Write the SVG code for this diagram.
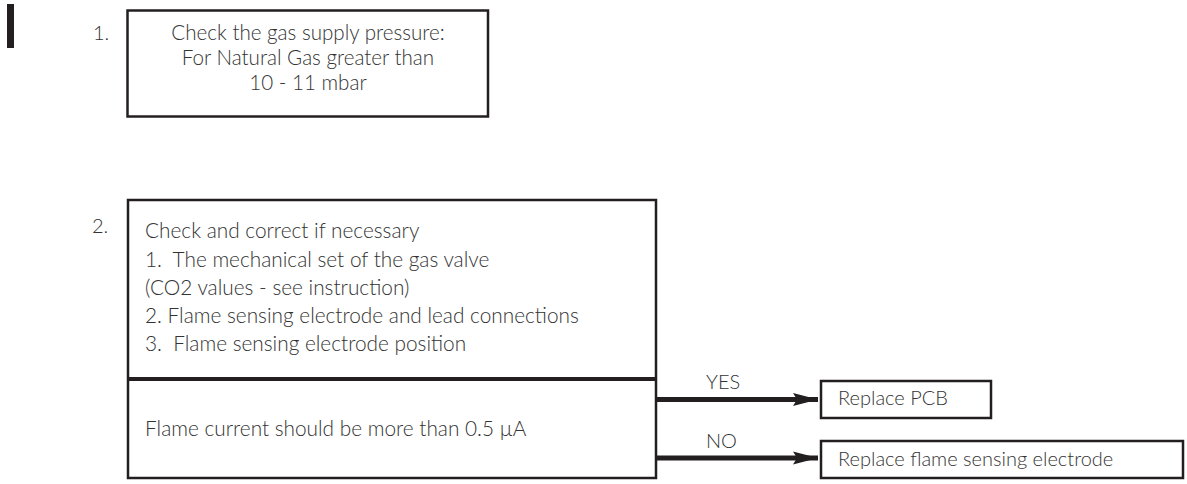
<svg xmlns="http://www.w3.org/2000/svg" width="1187" height="484" viewBox="0 0 1187 484">
<style>
text{font-family:Lato,"Open Sans","Liberation Sans",sans-serif;font-weight:300;font-size:20px;fill:#333}
.b1{font-size:20.6px}
.b2{font-size:20.8px;white-space:pre}
.box{fill:#fff;stroke:#231f20;stroke-width:2.5}
.c{text-anchor:middle}
.conn{stroke:#231f20;stroke-width:5;fill:none}
</style>
<defs>
<marker id="ah" markerUnits="userSpaceOnUse" markerWidth="26" markerHeight="14" refX="25" refY="7" orient="auto">
<path d="M0,0.5 L25,7 L0,13.5 L4,7 Z" fill="#231f20"/>
</marker>
</defs>
<rect x="7" y="4" width="7" height="44" fill="#231f20"/>
<g id="step1">
<text x="93" y="40">1.</text>
<rect class="box" x="127.5" y="10.5" width="360.5" height="106"/>
<text class="c b1" x="308" y="40">Check the gas supply pressure:</text>
<text class="c b1" x="308" y="65">For Natural Gas greater than</text>
<text class="c b1" x="308" y="90">10 - 11 mbar</text>
</g>
<g id="step2">
<text x="92" y="233">2.</text>
<rect class="box" x="128" y="200" width="528" height="278"/>
<line x1="128" y1="379" x2="656" y2="379" stroke="#231f20" stroke-width="4"/>
<text class="b2" x="145" y="238">Check and correct if necessary</text>
<text class="b2" x="145" y="267" xml:space="preserve">1.  The mechanical set of the gas valve</text>
<text class="b2" x="145" y="295">(CO2 values - see instruction)</text>
<text class="b2" x="145" y="323">2. Flame sensing electrode and lead connections</text>
<text class="b2" x="145" y="351" xml:space="preserve">3.  Flame sensing electrode position</text>
<text class="b2" x="145" y="436">Flame current should be more than 0.5 µA</text>
</g>
<g id="pcb">
<rect class="box" x="821" y="381" width="170" height="37"/>
<text x="838" y="405">Replace PCB</text>
</g>
<g id="electrode">
<rect class="box" x="821" y="441" width="362" height="37"/>
<text x="838" y="466">Replace flame sensing electrode</text>
</g>
<g id="connectors">
<line class="conn" x1="657" y1="399.5" x2="818" y2="399.5" marker-end="url(#ah)"/>
<line class="conn" x1="657" y1="458" x2="818" y2="458" marker-end="url(#ah)"/>
<text x="706" y="389">YES</text>
<text x="706" y="448">NO</text>
</g>
</svg>
